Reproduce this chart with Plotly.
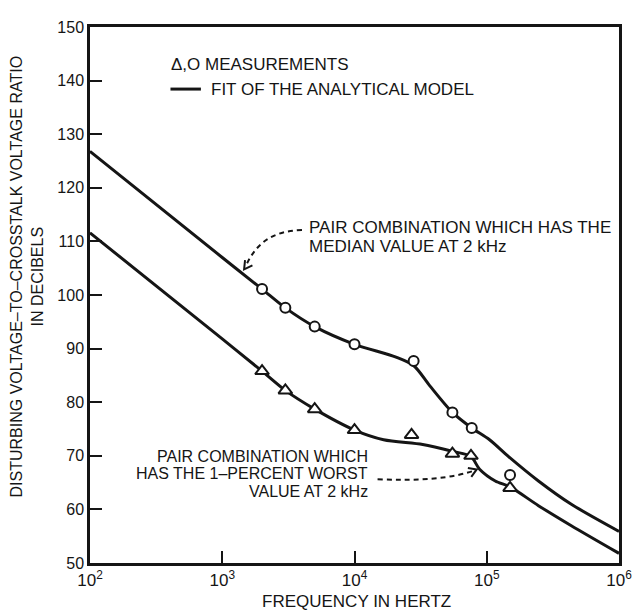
import plotly.graph_objects as go

# ---------------- data ----------------
circle_freq = [2000, 3000, 5000, 10000, 28000, 55000, 77000, 150000]
circle_db = [101.1, 97.6, 94.1, 90.8, 87.7, 78.1, 75.2, 66.4]

triangle_freq = [2000, 3000, 5000, 10000, 27000, 55000, 76000, 150000]
triangle_db = [85.8, 82.2, 78.7, 74.8, 73.9, 70.4, 70.0, 64.0]

fit_median_freq = [100, 1000, 2000, 3000, 5000, 10000, 20600, 28100, 37000,
                   55000, 77000, 105000, 147000, 246000, 433000, 1000000]
fit_median_db = [126.8, 107.0, 101.1, 97.6, 94.1, 90.8, 88.4, 86.8, 83.1,
                 78.1, 75.2, 73.0, 69.8, 65.3, 61.0, 55.9]

fit_worst_freq = [100, 1000, 2000, 3000, 5000, 10000, 16600, 32800, 55700,
                  75700, 88300, 116000, 150000, 246000, 433000, 1000000]
fit_worst_db = [111.6, 91.8, 85.8, 82.2, 78.7, 74.8, 73.0, 72.1, 70.8,
                69.9, 67.5, 65.3, 64.2, 60.7, 57.0, 51.8]

x_tick_vals = [1e2, 1e3, 1e4, 1e5, 1e6]
x_tick_text = ["10<sup>2</sup>", "10<sup>3</sup>", "10<sup>4</sup>",
               "10<sup>5</sup>", "10<sup>6</sup>"]
y_tick_vals = [50, 60, 70, 80, 90, 100, 110, 120, 130, 140, 150]

# ---------------- layout geometry ----------------
# the page places the figure 8px in from the top-left corner
OFF = 8
W, H = 643 - OFF, 613 - OFF
L, R, T, B = 90 - OFF, 14, 19 - OFF, 50
PW, PH = W - L - R, H - T - B
FONT = "Liberation Sans, Arial, Helvetica, sans-serif"
INK = "#151515"


def px(x):
    """screen x (reference pixels) -> paper x"""
    return (x - OFF - L) / PW


def py(y):
    """screen y (reference pixels) -> paper y"""
    return (H - B - (y - OFF)) / PH


fig = go.Figure()

fig.add_trace(go.Scatter(x=fit_median_freq, y=fit_median_db, mode="lines",
                         line=dict(color=INK, width=3, shape="spline", smoothing=0.8),
                         showlegend=False, hoverinfo="skip"))
fig.add_trace(go.Scatter(x=fit_worst_freq, y=fit_worst_db, mode="lines",
                         line=dict(color=INK, width=3, shape="spline", smoothing=0.8),
                         showlegend=False, hoverinfo="skip"))
fig.add_trace(go.Scatter(x=circle_freq, y=circle_db, mode="markers",
                         marker=dict(symbol="circle", size=10, color="white",
                                     line=dict(color=INK, width=2)),
                         showlegend=False))
fig.add_trace(go.Scatter(x=triangle_freq, y=triangle_db, mode="markers",
                         marker=dict(symbol="triangle-up", size=12, color="white",
                                     line=dict(color=INK, width=2)),
                         showlegend=False))

annotations = []
shapes = []


def text(s, x, y, xanchor="left", size=16):
    annotations.append(dict(text=s, x=px(x), y=py(y), xref="paper", yref="paper",
                            xanchor=xanchor, yanchor="middle", showarrow=False,
                            font=dict(family=FONT, size=size, color=INK)))


# legend
text("Δ,O MEASUREMENTS", 171, 57, size=17)
shapes.append(dict(type="line", xref="paper", yref="paper",
                   x0=px(172), x1=px(203), y0=py(82), y1=py(82),
                   line=dict(color=INK, width=3)))
text("FIT OF THE ANALYTICAL MODEL", 211, 82, size=17)

# upper callout
text("PAIR COMBINATION WHICH HAS THE", 311, 222, size=17)
text("MEDIAN VALUE AT 2 kHz", 311, 242, size=17)
shapes.append(dict(type="path", xref="paper", yref="paper",
                   path=f"M {px(306)},{py(225)} C {px(272)},{py(226)} {px(258)},{py(242)} {px(249)},{py(261)}",
                   line=dict(color=INK, width=2, dash="5px,4px")))
shapes.append(dict(type="path", xref="paper", yref="paper",
                   path=f"M {px(255.5)},{py(261)} L {px(247)},{py(265)} L {px(248)},{py(255.5)}",
                   line=dict(color=INK, width=2)))

# lower callout
text("PAIR COMBINATION WHICH", 375, 455, xanchor="right")
text("HAS THE 1–PERCENT WORST", 375, 472, xanchor="right")
text("VALUE AT 2 kHz", 375, 490, xanchor="right")
shapes.append(dict(type="path", xref="paper", yref="paper",
                   path=f"M {px(383)},{py(478)} C {px(425)},{py(480)} {px(460)},{py(477)} {px(482)},{py(469)}",
                   line=dict(color=INK, width=2, dash="5px,4px")))
shapes.append(dict(type="path", xref="paper", yref="paper",
                   path=f"M {px(475)},{py(466.5)} L {px(484)},{py(468)} L {px(478.5)},{py(475.5)}",
                   line=dict(color=INK, width=2)))

# axis titles
annotations.append(dict(text="DISTURBING VOLTAGE–TO–CROSSTALK VOLTAGE RATIO<br>IN DECIBELS",
                        x=px(26), y=py(272), xref="paper", yref="paper",
                        xanchor="center", yanchor="middle", showarrow=False, textangle=-90,
                        font=dict(family=FONT, size=16, color=INK)))
annotations.append(dict(text="FREQUENCY IN HERTZ", x=px(362), y=py(602),
                        xref="paper", yref="paper", xanchor="center", yanchor="middle",
                        showarrow=False, font=dict(family=FONT, size=17, color=INK)))

fig.update_layout(
    width=W, height=H,
    margin=dict(l=L, r=R, t=T, b=B, pad=0),
    paper_bgcolor="white", plot_bgcolor="white",
    font=dict(family=FONT, size=16, color=INK),
    showlegend=False,
    annotations=annotations,
    shapes=shapes,
    xaxis=dict(type="log", range=[2, 6], tickvals=x_tick_vals, ticktext=x_tick_text,
               ticks="inside", ticklen=12, tickwidth=2, tickcolor=INK,
               showline=True, linewidth=2.5, linecolor=INK, mirror=True,
               showgrid=False, zeroline=False, tickfont=dict(size=17)),
    yaxis=dict(range=[50, 150], tickvals=y_tick_vals,
               ticks="inside", ticklen=12, tickwidth=2, tickcolor=INK,
               showline=True, linewidth=2.5, linecolor=INK, mirror=True,
               showgrid=False, zeroline=False, tickfont=dict(size=16)),
)

fig.write_html("out.html")
